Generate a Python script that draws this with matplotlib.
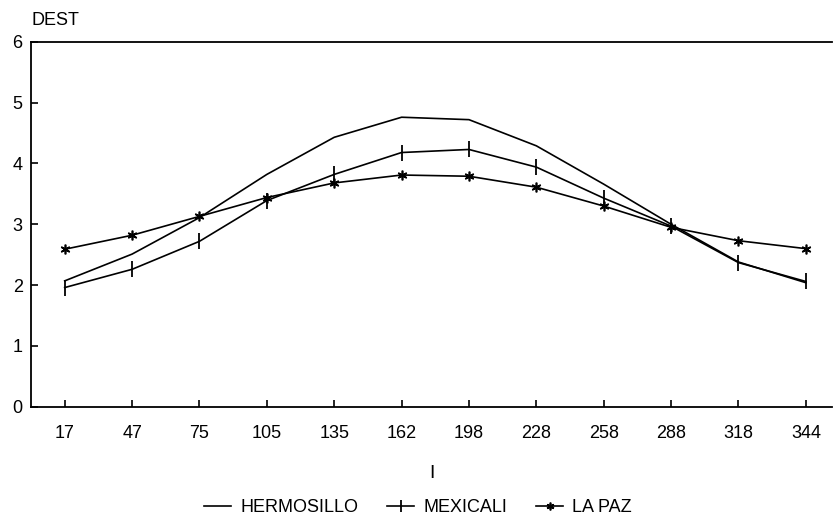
import matplotlib
matplotlib.use("Agg")
import matplotlib.pyplot as plt
from matplotlib import font_manager

days = ["17", "47", "75", "105", "135", "162", "198", "228", "258", "288", "318", "344"]
hermosillo = [2.07, 2.51, 3.11, 3.82, 4.43, 4.76, 4.72, 4.29, 3.66, 3.00, 2.38, 2.04]
mexicali = [1.96, 2.26, 2.72, 3.39, 3.82, 4.18, 4.23, 3.94, 3.43, 2.97, 2.37, 2.06]
lapaz = [2.59, 2.82, 3.13, 3.44, 3.68, 3.81, 3.79, 3.61, 3.30, 2.95, 2.73, 2.60]
yticks = [0, 1, 2, 3, 4, 5, 6]

names = {f.name for f in font_manager.fontManager.ttflist}
fam = "Liberation Sans Narrow" if "Liberation Sans Narrow" in names else "Liberation Sans"
plt.rcParams["font.family"] = [fam, "DejaVu Sans"]

fig = plt.figure(figsize=(8.38, 5.29), dpi=100)
ax = fig.add_axes([0.037, 0.231, 0.956, 0.690])
x = list(range(len(days)))
ax.plot(x, hermosillo, color="black", lw=1.2, label="HERMOSILLO")
ax.plot(x, mexicali, color="black", lw=1.2, marker="|", ms=11, mew=1.3, label="MEXICALI")
ax.plot(x, lapaz, color="black", lw=1.2, marker=(6, 2, 0), ms=7, mew=1.2, label="LA PAZ")

ax.set_xlim(-0.5, 11.39)
ax.set_ylim(0, 6)
ax.set_xticks(x)
ax.set_xticklabels(days, fontsize=13)
ax.set_yticks(yticks)
ax.set_yticklabels([str(v) for v in yticks], fontsize=13)
ax.tick_params(axis="both", direction="in", length=5, width=1.2, color="black")
ax.tick_params(axis="x", pad=13)
ax.tick_params(axis="y", pad=6)
ax.spines["right"].set_visible(False)
for s in ["left", "bottom", "top"]:
    ax.spines[s].set_linewidth(1.3)
ax.spines["top"].set_linestyle((0, (6, 1)))
ax.set_xlabel("I", fontsize=14, labelpad=17)
fig.text(0.038, 0.962, "DEST", fontsize=13, ha="left", va="center")
fig.legend(*ax.get_legend_handles_labels(), loc="center", bbox_to_anchor=(0.499, 0.04), ncol=3,
           frameon=False, fontsize=13, handlelength=1.5, columnspacing=1.6, handletextpad=0.5,
           markerscale=0.8)
fig.savefig("out.png", dpi=100)
